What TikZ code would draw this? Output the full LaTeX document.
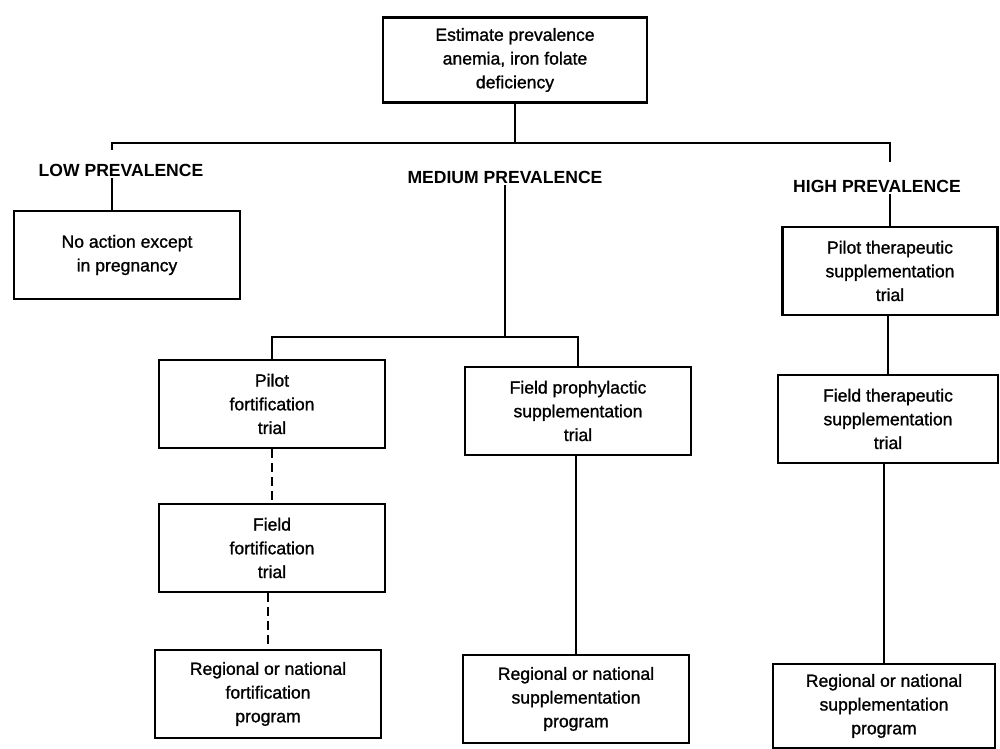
\documentclass[tikz,border=0pt]{standalone}
\usepackage{fontspec}
\setmainfont{Liberation Sans}
\newfontfamily\boxfont{Liberation Sans}[FakeBold=1.2]
\tikzset{
    RA1/.style ={rectangle,minimum width = 4.52cm, minimum height = 1.76cm, draw=black, line width=1.2pt,
                 align=center, font=\boxfont\fontsize{10}{13.5}\selectfont},
    RA2/.style ={RA1, minimum width = 5.28cm, minimum height = 1.7cm},
    LB1/.style ={inner sep=1pt, font=\bfseries\fontsize{10}{12}\selectfont},
    LN1/.style ={draw=black, line width=1.2pt},
    LN2/.style ={LN1, dash pattern=on 5pt off 3pt}
}
\begin{document}
\begin{tikzpicture}[x=0.02cm, y=-0.02cm]
        \useasboundingbox (0,0) rectangle (1000,749);
        % top box and the three prevalence labels
        \node[RA2] (est) at (515,60) {Estimate prevalence\\anemia, iron folate\\deficiency};
        \node[LB1] (low) at (121,170) {LOW PREVALENCE};
        \node[LB1] (med) at (505,177) {MEDIUM PREVALENCE};
        \node[LB1] (high) at (877,186) {HIGH PREVALENCE};
        \coordinate (busL) at (112,143);
        \coordinate (busR) at (890,143);
        \coordinate (lowtick) at (112,150);
        \coordinate (hightick) at (890,162);
        \coordinate (medsplit) at (505,337);
        % low
        \node[RA1] (noact) at (127,255) {No action except\\in pregnancy};
        % medium
        \node[RA1] (pfort) at (272,404) {Pilot\\fortification\\trial};
        \node[RA1] (ffort) at (272,548) {Field\\fortification\\trial};
        \node[RA1] (rfort) at (268,694) {Regional or national\\fortification\\program};
        \node[RA1] (fproph) at (578,411) {Field prophylactic\\supplementation\\trial};
        \node[RA1] (rsupp) at (576,699) {Regional or national\\supplementation\\program};
        % high
        \node[RA1, minimum width=4.3cm] (ptherap) at (890,271) {Pilot therapeutic\\supplementation\\trial};
        \node[RA1, minimum width=4.4cm] (ftherap) at (888,419) {Field therapeutic\\supplementation\\trial};
        \node[RA1, minimum width=4.44cm, minimum height=1.68cm] (rhigh) at (884,706) {Regional or national\\supplementation\\program};
        % connectors
        \draw[LN1] (est.south) -- (est.south |- busL);
        \draw[LN1] (lowtick) -- (busL) -- (busR) -- (hightick);
        \draw[LN1] (low.south -| busL) -- (noact.north -| busL);
        \draw[LN1] (med.south) -- (medsplit);
        \draw[LN1] (pfort.north) |- (medsplit) -| (fproph.north);
        \draw[LN2] (pfort.south) -- (pfort.south |- ffort.north);
        \draw[LN2] (ffort.south -| rfort.north) -- (rfort.north);
        \draw[LN1] (fproph.south -| rsupp.north) -- (rsupp.north);
        \draw[LN1] (ptherap.north -| busR) -- (high.south -| busR);
        \draw[LN1] (ftherap.north) -- (ftherap.north |- ptherap.south);
        \draw[LN1] (rhigh.north) -- (rhigh.north |- ftherap.south);
\end{tikzpicture}
\end{document}
